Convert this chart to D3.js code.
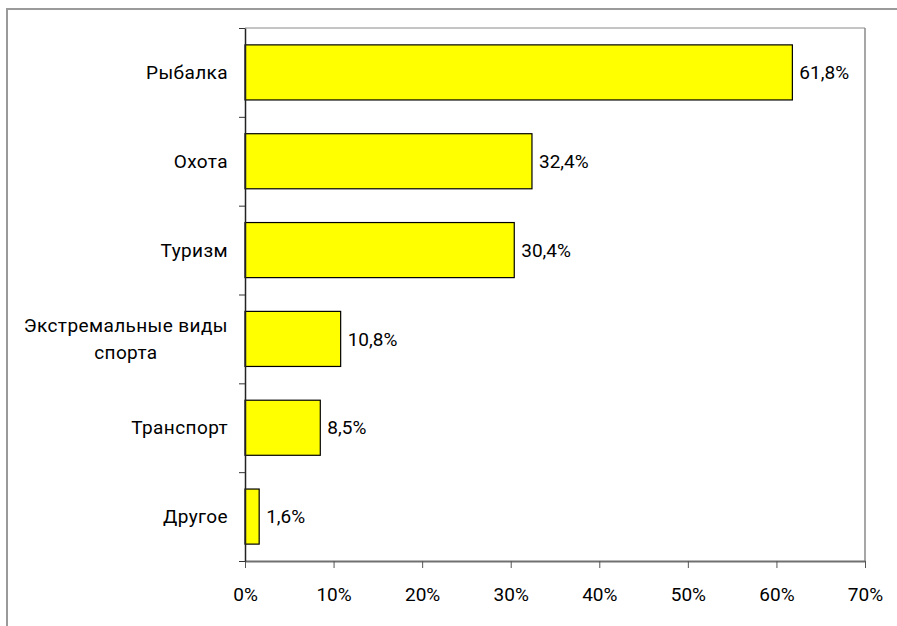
<!DOCTYPE html>
<html><head><meta charset="utf-8">
<script src="https://cdn.jsdelivr.net/npm/d3@7"></script>
<style>body{margin:0;background:#fff}svg{display:block}text{font-family:Roboto,"Noto Sans",sans-serif;fill:#000}</style>
</head><body>
<svg id="c" width="897" height="626"></svg>
<script>
const categories = ["Рыбалка","Охота","Туризм","Экстремальные виды спорта","Транспорт","Другое"];
const categoryLines = [["Рыбалка"],["Охота"],["Туризм"],["Экстремальные виды","спорта"],["Транспорт"],["Другое"]];
const values = [61.8,32.4,30.4,10.8,8.5,1.6];
const xTicks = [0,10,20,30,40,50,60,70];

const svg = d3.select("#c");
const L = 245, R = 865, T = 28, B = 561;
const fs = 19;
const loc = d3.formatLocale({decimal:",", thousands:" ", grouping:[3], currency:["",""]});
const fmt = loc.format(".1f");

// outer border
svg.append("rect").attr("x",7).attr("y",9).attr("width",900).attr("height",640)
  .attr("fill","none").attr("stroke","#9a9a9a").attr("stroke-width",2);

const x = d3.scaleLinear().domain([0,70]).range([L,R]);
const y = d3.scaleBand().domain(categories).range([T,B]).paddingInner(0.38).paddingOuter(0.19);
const yIdx = d3.scaleLinear().domain([0,categories.length]).range([T,B]);

// plot frame top / right
svg.append("line").attr("x1",L).attr("x2",R).attr("y1",T).attr("y2",T).attr("stroke","#8a8a8a").attr("stroke-width",1);
svg.append("line").attr("x1",R).attr("x2",R).attr("y1",T).attr("y2",B).attr("stroke","#8a8a8a").attr("stroke-width",1.5);

// bars
svg.selectAll("rect.bar").data(values).join("rect").attr("class","bar")
  .attr("x",x(0)).attr("y",(d,i)=>y(categories[i]))
  .attr("width",d=>x(d)-x(0)).attr("height",y.bandwidth())
  .attr("fill","#ffff00").attr("stroke","#000").attr("stroke-width",1.2);

// value labels
svg.selectAll("text.val").data(values).join("text").attr("class","val")
  .attr("x",d=>x(d)+7).attr("y",(d,i)=>y(categories[i])+y.bandwidth()/2)
  .attr("dy","0.35em").attr("font-size",fs).text(d=>fmt(d)+"%");

// bottom axis
const xa = svg.append("g").attr("transform",`translate(0,${B})`)
  .call(d3.axisBottom(x).tickValues(xTicks).tickFormat(d=>d+"%").tickSize(7).tickSizeOuter(0).tickPadding(20));
xa.select(".domain").attr("stroke","#707070").attr("stroke-width",2);
xa.selectAll(".tick line").attr("stroke","#555");
xa.selectAll("text").attr("font-size",fs).attr("font-family","Roboto");

// left axis with ticks at band boundaries
const ya = svg.append("g").attr("transform",`translate(${L},0)`)
  .call(d3.axisLeft(yIdx).tickValues(d3.range(categories.length+1)).tickFormat("").tickSize(6).tickSizeOuter(0));
ya.select(".domain").attr("stroke","#222").attr("stroke-width",1.5);
ya.selectAll(".tick line").attr("stroke","#333");

// category labels
const labelRight = 228;
const lh = 27;
categoryLines.forEach((lines,i)=>{
  const cy = y(categories[i]) + y.bandwidth()/2;
  const g = svg.append("g");
  const texts = lines.map((s,j)=>g.append("text").attr("font-size",fs).attr("letter-spacing","0.4px")
     .attr("y", cy + (j-(lines.length-1)/2)*lh).attr("dy","0.35em").text(s));
  const w = d3.max(texts,t=>t.node().getComputedTextLength());
  const cx = labelRight - w/2;
  texts.forEach(t=>t.attr("x",cx).attr("text-anchor","middle"));
});
</script>
</body></html>
